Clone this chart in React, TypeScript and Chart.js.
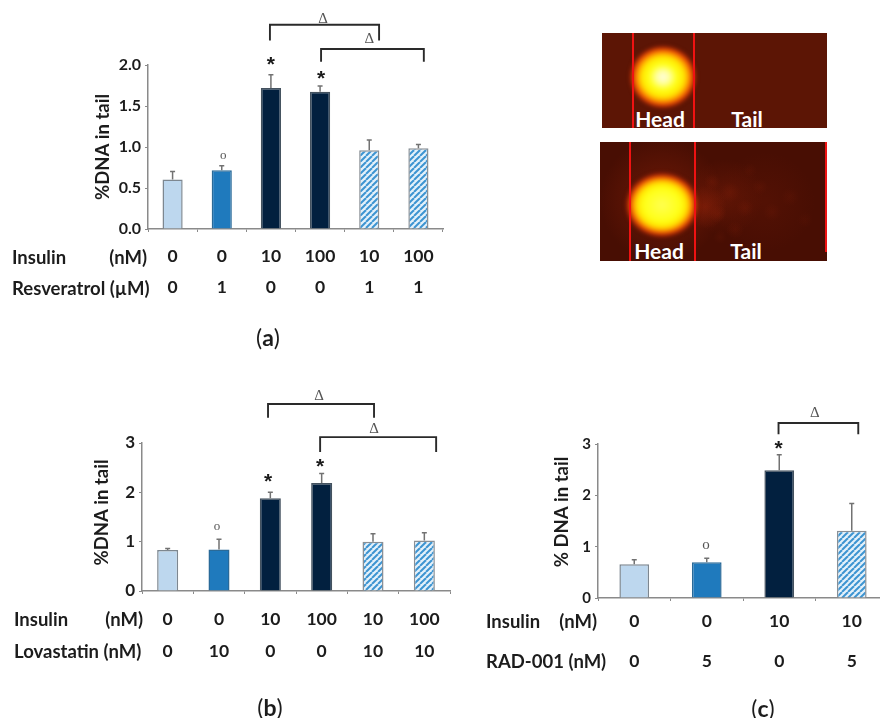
import React, { useEffect, useRef } from "react";
import { Chart, registerables } from "chart.js";

Chart.register(...registerables);

// ---------- data ----------
const insulinA = ["0", "0", "10", "100", "10", "100"];
const resveratrol = ["0", "1", "0", "0", "1", "1"];
const valuesA = [0.605, 0.715, 1.72, 1.675, 0.96, 0.985];
const errorsA = [0.095, 0.055, 0.16, 0.07, 0.125, 0.045];

const insulinB = ["0", "0", "10", "100", "10", "100"];
const lovastatin = ["0", "10", "0", "0", "10", "10"];
const valuesB = [0.83, 0.84, 1.88, 2.19, 1.0, 1.025];
const errorsB = [0.03, 0.21, 0.12, 0.19, 0.16, 0.155];

const insulinC = ["0", "0", "10", "10"];
const rad001 = ["0", "5", "0", "5"];
const valuesC = [0.656, 0.695, 2.49, 1.31];
const errorsC = [0.09, 0.08, 0.3, 0.53];

// bar styles: L light, M mid, D dark, H hatched
const stylesSix = ["L", "M", "D", "D", "H", "H"];
const stylesFour = ["L", "M", "D", "H"];

// [fromCategory, toCategory, topValue, footValue]
const bracketsA = [
  [1.98, 4.2, 2.49, 2.3],
  [3.02, 5.11, 2.195, 2.04],
];
const bracketsB = [
  [1.955, 4.02, 3.79, 3.51],
  [2.97, 5.23, 3.12, 2.82],
];
const bracketsC = [[1.99, 3.09, 3.41, 3.19]];

// [category, value]
const deltasA = [[3.06, 2.56], [4.0, 2.32]];
const deltasB = [[2.95, 3.95], [4.02, 3.28]];
const deltasC = [[2.49, 3.6]];
const starsA = [[2.0, 2.05], [3.02, 1.88]];
const starsB = [[1.955, 2.29], [2.97, 2.59]];
const starsC = [[1.99, 2.98]];
const ringsA = [[1.03, 0.9]];
const ringsB = [[0.96, 1.3]];
const ringsC = [[0.99, 1.03]];

const FONT = "Lato, Carlito, 'Open Sans', sans-serif";
const SERIF = "'Liberation Serif', serif";
const TEXT = "#1c1c1c";
const GREY = "#8a8a8a";

function hatch(ctx: CanvasRenderingContext2D) {
  const size = 6;
  const c = document.createElement("canvas");
  c.width = size;
  c.height = size;
  const g = c.getContext("2d")!;
  g.fillStyle = "#e4f1fa";
  g.fillRect(0, 0, size, size);
  g.strokeStyle = "#3d94d1";
  g.lineWidth = 2;
  for (const o of [-size, 0, size]) {
    g.beginPath();
    g.moveTo(o, size);
    g.lineTo(o + size, 0);
    g.stroke();
  }
  return ctx.createPattern(c, "repeat")!;
}

const marksPlugin = {
  id: "marks",
  afterDatasetsDraw(chart: any, _a: any, opts: any) {
    const { ctx, scales } = chart;
    const x = scales.x;
    const y = scales.y;
    ctx.save();
    // error bars, upper arm only
    ctx.strokeStyle = "#727272";
    ctx.lineWidth = 1.5;
    opts.values.forEach((v: number, i: number) => {
      const px = x.getPixelForValue(i);
      const top = y.getPixelForValue(v + opts.errors[i]);
      ctx.beginPath();
      ctx.moveTo(px, y.getPixelForValue(v));
      ctx.lineTo(px, top);
      ctx.moveTo(px - 2.5, top);
      ctx.lineTo(px + 2.5, top);
      ctx.stroke();
    });
    // significance brackets
    ctx.strokeStyle = "#2a2a2a";
    ctx.lineWidth = 1.9;
    opts.brackets.forEach(([a, b, t, f]: number[]) => {
      ctx.beginPath();
      ctx.moveTo(x.getPixelForValue(a), y.getPixelForValue(f));
      ctx.lineTo(x.getPixelForValue(a), y.getPixelForValue(t));
      ctx.lineTo(x.getPixelForValue(b), y.getPixelForValue(t));
      ctx.lineTo(x.getPixelForValue(b), y.getPixelForValue(f));
      ctx.stroke();
    });
    ctx.textAlign = "center";
    ctx.textBaseline = "middle";
    ctx.fillStyle = "#555";
    ctx.font = `15px ${SERIF}`;
    opts.deltas.forEach(([a, v]: number[]) =>
      ctx.fillText("Δ", x.getPixelForValue(a), y.getPixelForValue(v))
    );
    ctx.fillStyle = "#1a1a1a";
    ctx.font = `bold 21px 'Liberation Sans', sans-serif`;
    opts.stars.forEach(([a, v]: number[]) =>
      ctx.fillText("*", x.getPixelForValue(a), y.getPixelForValue(v) + 4)
    );
    ctx.fillStyle = "#555";
    ctx.font = `${opts.ringSize}px ${SERIF}`;
    opts.rings.forEach(([a, v]: number[]) =>
      ctx.fillText("o", x.getPixelForValue(a), y.getPixelForValue(v))
    );
    ctx.restore();
  },
};

type PanelProps = {
  left: number; top: number; width: number; height: number;
  axisLeft: number; plotTop: number; plotBottom: number; plotRight: number;
  row1: string[]; row2: string[]; values: number[]; errors: number[]; styles: string[];
  max: number; step: number; decimals: number;
  title: string; titleLead: number; titlePad: number; tickSize: number; rowGap: number; rowPad: number;
  brackets: number[][]; deltas: number[][]; stars: number[][]; rings: number[][]; ringSize: number;
};

function Panel(p: PanelProps) {
  const ref = useRef<HTMLCanvasElement>(null);
  useEffect(() => {
    const ctx = ref.current!.getContext("2d")!;
    const pattern = hatch(ctx);
    const fills: Record<string, any> = { L: "#bdd7ee", M: "#1f7abd", D: "#02203f", H: pattern };
    const edges: Record<string, string> = { L: "#7d8790", M: "#2a6a98", D: "#44525f", H: "#8a9096" };
    const chart = new Chart(ref.current!, {
      type: "bar",
      data: {
        labels: p.row1.map((a, i) => [a, p.row2[i]]),
        datasets: [
          {
            data: p.values,
            backgroundColor: p.styles.map((s) => fills[s]),
            borderColor: p.styles.map((s) => edges[s]),
            borderWidth: 1.5,
            barPercentage: 0.41,
            categoryPercentage: 1,
          },
        ],
      },
      options: {
        animation: false,
        responsive: false,
        devicePixelRatio: 1,
        layout: {
          padding: { left: 0, top: p.plotTop, right: p.width - p.plotRight, bottom: 0 },
        },
        plugins: {
          legend: { display: false },
          tooltip: { enabled: false },
          marks: {
            values: p.values, errors: p.errors, brackets: p.brackets,
            deltas: p.deltas, stars: p.stars, rings: p.rings, ringSize: p.ringSize,
          },
        } as any,
        scales: {
          x: {
            offset: true,
            border: { color: GREY, width: 1.5 },
            grid: { drawOnChartArea: false, drawTicks: true, tickLength: 3, color: GREY, offset: true },
            ticks: {
              color: TEXT,
              padding: p.rowPad,
              autoSkip: false,
              maxRotation: 0,
              minRotation: 0,
              font: { family: FONT, weight: "bold", size: 17.5, lineHeight: `${p.rowGap}px` },
            },
            afterFit: (s: any) => { s.height = p.height - p.plotBottom; },
          },
          y: {
            min: 0,
            max: p.max,
            border: { color: GREY, width: 1.5 },
            grid: { drawOnChartArea: false, drawTicks: true, tickLength: 3, color: GREY },
            ticks: {
              color: TEXT,
              padding: 4,
              stepSize: p.step,
              callback: (v: any) => Number(v).toFixed(p.decimals),
              font: { family: FONT, weight: "bold", size: p.tickSize },
            },
            title: {
              display: true,
              text: " ".repeat(p.titleLead) + p.title,
              color: TEXT,
              padding: { top: p.titlePad, bottom: 0 },
              font: { family: FONT, weight: "bold", size: 18.5, lineHeight: 1 },
            },
            afterFit: (s: any) => { s.width = p.axisLeft; },
          },
        },
      } as any,
      plugins: [marksPlugin as any],
    });
    return () => chart.destroy();
  }, []);
  return (
    <canvas
      ref={ref}
      width={p.width}
      height={p.height}
      style={{ position: "absolute", left: p.left, top: p.top, width: p.width, height: p.height }}
    />
  );
}

function Label({ x, y, right, children, size = 18.5, weight = "bold", color = TEXT, center }: any) {
  const style: React.CSSProperties = {
    position: "absolute",
    top: y,
    transform: center ? "translate(-50%,-50%)" : "translateY(-50%)",
    fontFamily: FONT,
    fontWeight: weight,
    fontSize: size,
    color,
    whiteSpace: "nowrap",
    lineHeight: 1,
  };
  if (right !== undefined) style.right = 880 - right;
  else style.left = x;
  return <span style={style}>{children}</span>;
}

function Caption({ x, y, letter }: any) {
  return (
    <Label x={x} y={y} center size={23} weight="normal">
      (<b>{letter}</b>)
    </Label>
  );
}

function Comet(props: any) {
  const { x, y, w, h, bg, lines, head, glow, blobs } = props;
  const layers = (blobs || []).map(
    (b: number[]) =>
      `radial-gradient(circle ${b[2]}px at ${b[0]}px ${b[1]}px, rgba(150,36,10,${b[3]}) 0%, rgba(150,36,10,0) 100%)`
  );
  return (
    <div
      style={{
        position: "absolute", left: x, top: y, width: w, height: h,
        background: [...layers, bg].join(","), overflow: "hidden",
      }}
    >
      <div
        style={{
          position: "absolute", left: head.x - head.rx, top: head.y - head.ry,
          width: head.rx * 2, height: head.ry * 2, borderRadius: "50%",
          filter: "blur(2px)",
          background: glow,
        }}
      />
      {lines.map((l: number[], i: number) => (
        <div
          key={i}
          style={{ position: "absolute", left: l[0], top: 0, width: 2, height: l[1], background: "#f01212" }}
        />
      ))}
    </div>
  );
}

const glowTop =
  "radial-gradient(closest-side, #fffde0 0%, #ffffa0 20%, #ffff18 42%, #ffe600 64%, #ff9800 78%, #e03a05 91%, rgba(140,30,5,0.55) 100%)";
const glowBottom =
  "radial-gradient(closest-side, #ffff50 0%, #ffff18 50%, #ffe600 68%, #ff9800 80%, #d83405 91%, rgba(130,28,5,0.55) 100%)";
// comet tail blotches: x, y, radius, opacity
const tailBlobs = [
  [62, 58, 62, 0.5], [105, 65, 22, 0.5], [125, 55, 38, 0.28], [165, 60, 50, 0.14],
  [118, 72, 9, 0.22], [130, 50, 10, 0.18], [112, 40, 8, 0.18],
  [145, 66, 9, 0.16], [160, 45, 8, 0.12], [135, 88, 9, 0.14], [172, 70, 9, 0.12],
  [150, 28, 7, 0.1], [190, 55, 9, 0.1], [205, 78, 8, 0.08], [120, 95, 7, 0.1],
];

export default function App() {
  return (
    <div
      style={{
        position: "absolute", left: 0, top: 0, width: 880, height: 718,
        overflow: "hidden", background: "#fff",
      }}
    >
      <Panel
        left={0} top={0} width={460} height={350}
        axisLeft={148} plotTop={65} plotBottom={229} plotRight={443}
        row1={insulinA} row2={resveratrol} values={valuesA} errors={errorsA} styles={stylesSix}
        max={2} step={0.5} decimals={1} title="%DNA in tail" titleLead={0} titlePad={94} tickSize={16}
        rowGap={31} rowPad={9}
        brackets={bracketsA} deltas={deltasA} stars={starsA} rings={ringsA} ringSize={13}
      />
      <Panel
        left={0} top={380} width={460} height={300}
        axisLeft={142} plotTop={63} plotBottom={211} plotRight={450}
        row1={insulinB} row2={lovastatin} values={valuesB} errors={errorsB} styles={stylesSix}
        max={3} step={1} decimals={0} title="%DNA in tail" titleLead={2} titlePad={93} tickSize={17}
        rowGap={32} rowPad={9}
        brackets={bracketsB} deltas={deltasB} stars={starsB} rings={ringsB} ringSize={13}
      />
      <Panel
        left={470} top={400} width={430} height={300}
        axisLeft={128} plotTop={44} plotBottom={198} plotRight={418}
        row1={insulinC} row2={rad001} values={valuesC} errors={errorsC} styles={stylesFour}
        max={3} step={1} decimals={0} title="% DNA in tail" titleLead={4} titlePad={83} tickSize={15}
        rowGap={40} rowPad={0}
        brackets={bracketsC} deltas={deltasC} stars={starsC} rings={ringsC} ringSize={15}
      />

      <Label x={12} y={257}>Insulin</Label>
      <Label right={147} y={257}>(nM)</Label>
      <Label x={12} y={288}>Resveratrol (µM)</Label>
      <Caption x={268} y={337} letter="a" />

      <Label x={14} y={619}>Insulin</Label>
      <Label right={143} y={619}>(nM)</Label>
      <Label x={14} y={651}>Lovastatin (nM)</Label>
      <Caption x={270} y={707} letter="b" />

      <Label x={486} y={621}>Insulin</Label>
      <Label right={597} y={621}>(nM)</Label>
      <Label x={486} y={661}>RAD-001 (nM)</Label>
      <Caption x={763} y={708} letter="c" />

      <Comet
        x={602} y={33} w={225} h={95} bg="#5c1505"
        glow={glowTop}
        lines={[[30, 95], [91, 95]]}
        head={{ x: 61, y: 44, rx: 33, ry: 31 }}
      />
      <Comet
        x={600} y={142} w={227} h={119} bg="#480e03"
        glow={glowBottom}
        blobs={tailBlobs}
        lines={[[29, 119], [94, 119], [225, 110]]}
        head={{ x: 62, y: 63, rx: 36, ry: 32 }}
      />
      <Label x={660} y={118} center size={21} color="#fff">Head</Label>
      <Label x={747} y={118} center size={21} color="#fff">Tail</Label>
      <Label x={659} y={250} center size={21} color="#fff">Head</Label>
      <Label x={746} y={250} center size={21} color="#fff">Tail</Label>
    </div>
  );
}
